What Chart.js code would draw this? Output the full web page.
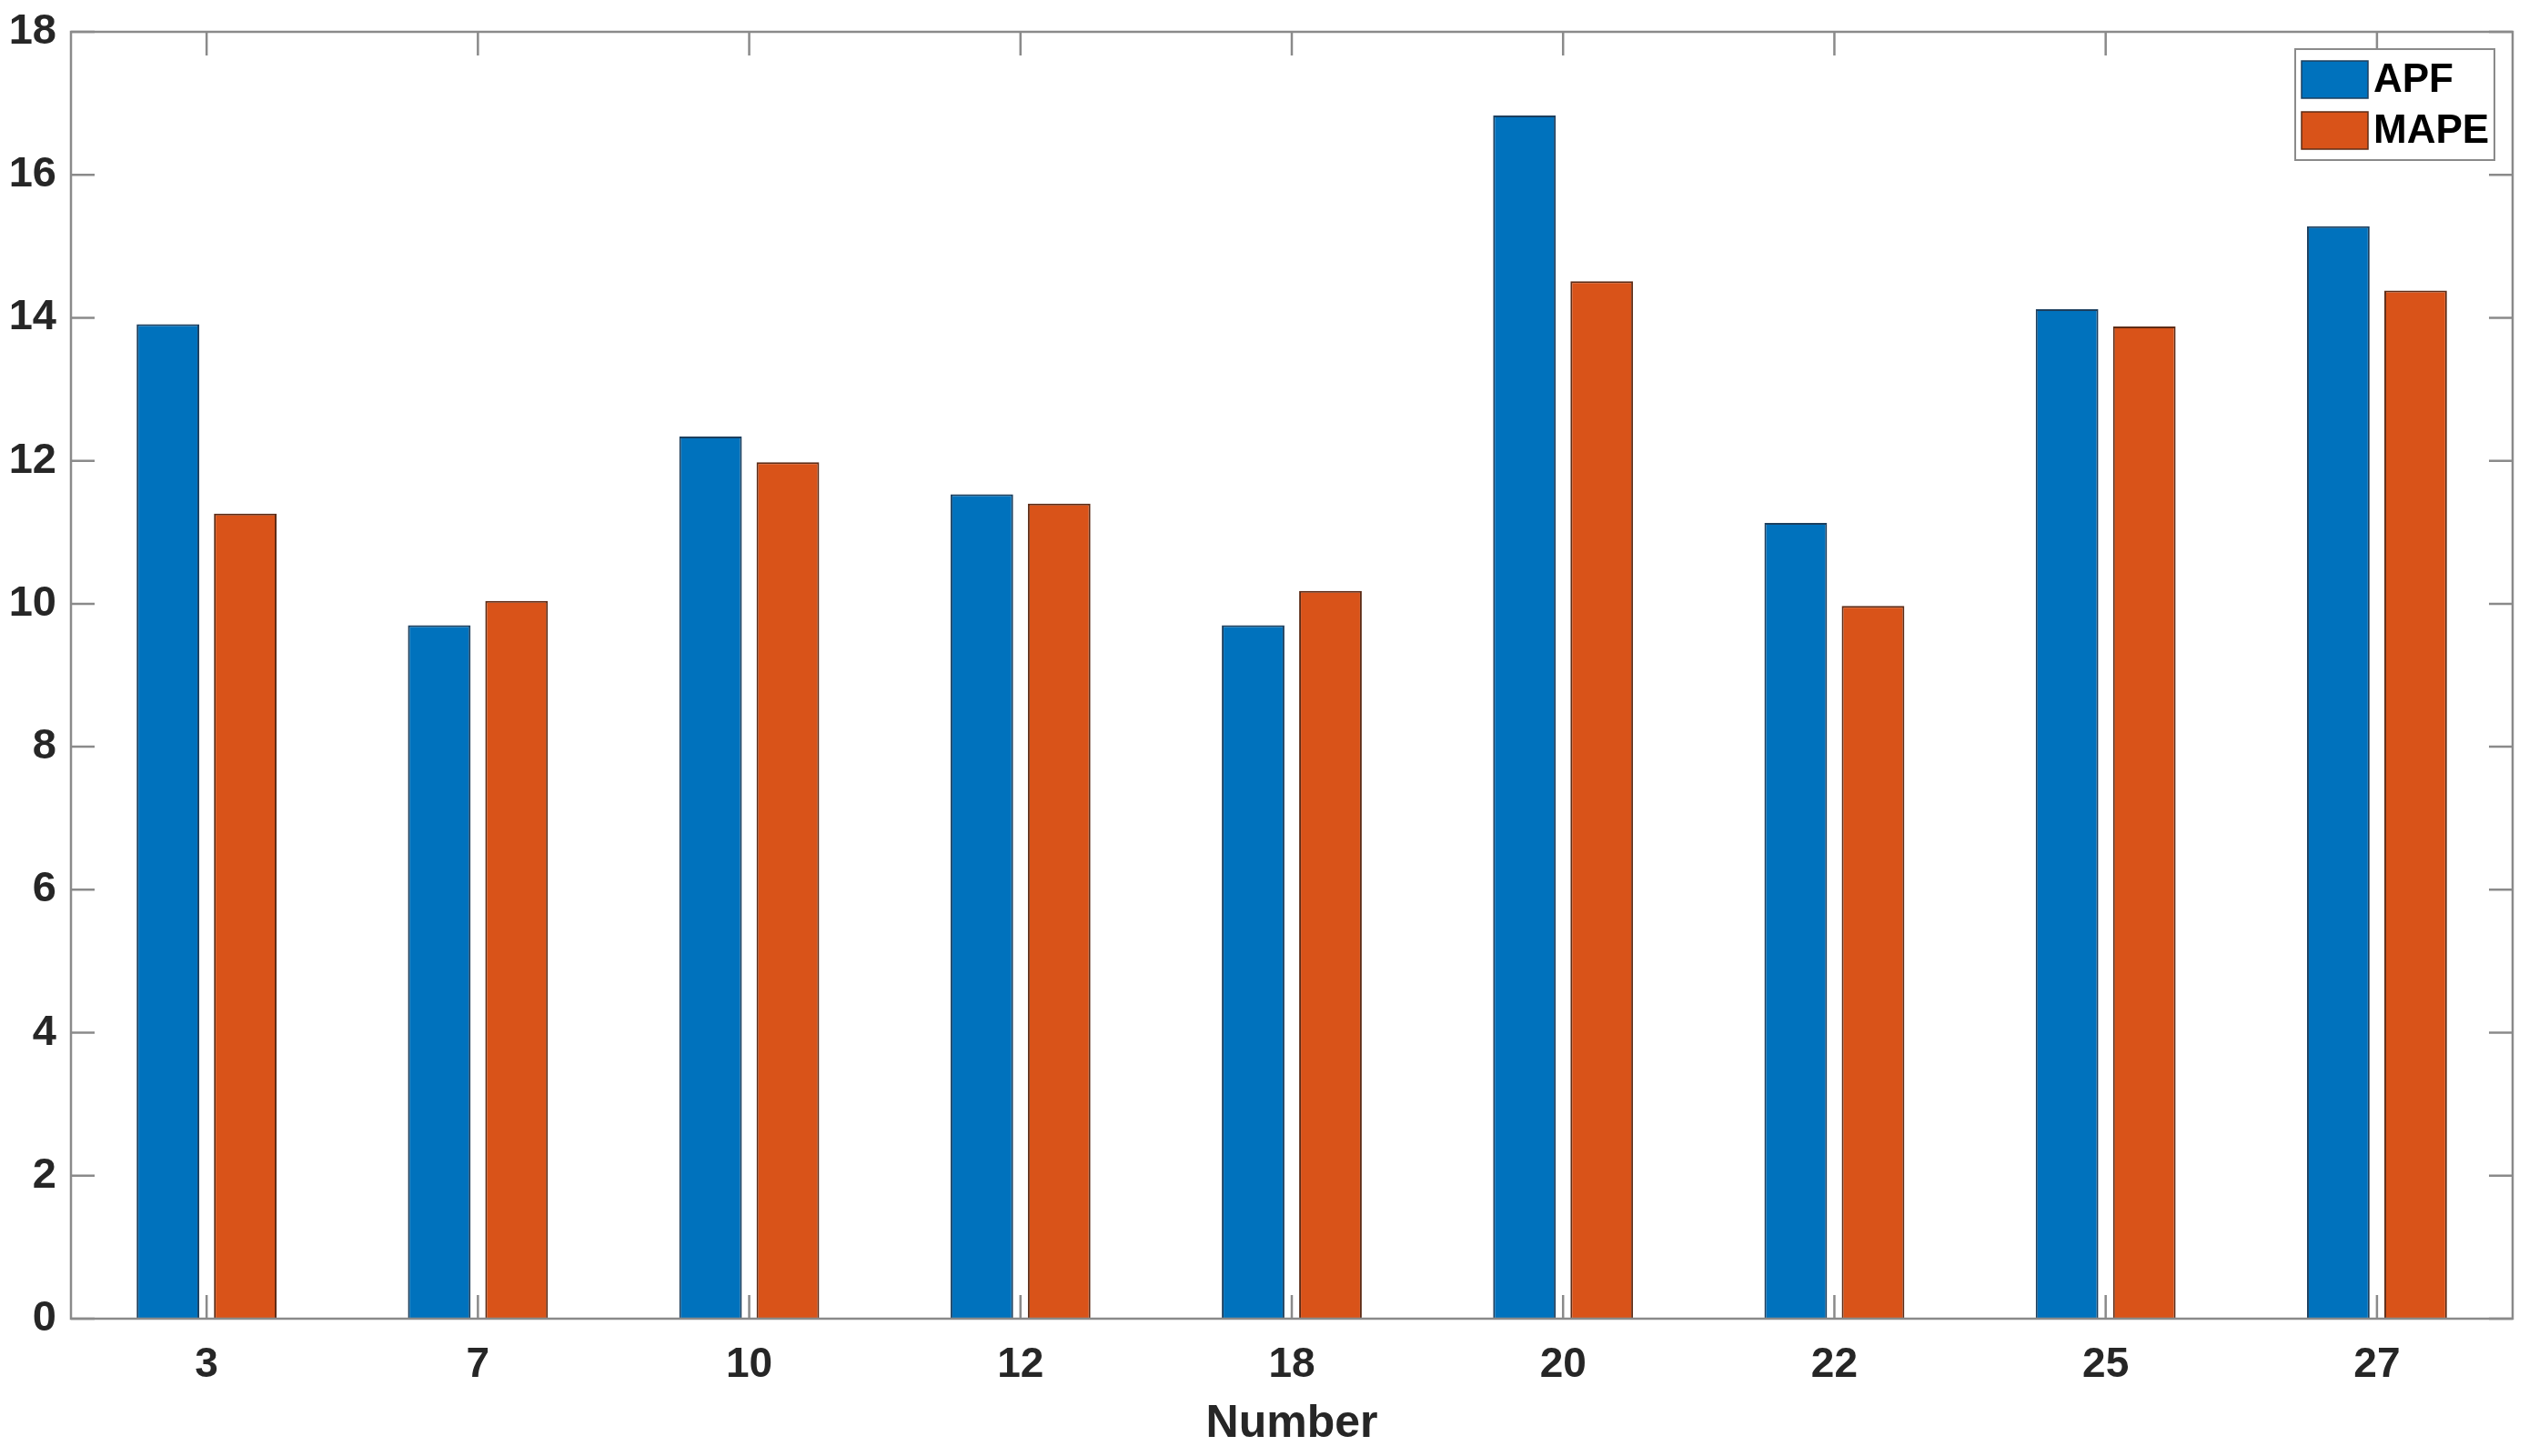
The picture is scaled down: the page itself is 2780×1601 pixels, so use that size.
<!DOCTYPE html>
<html>
<head>
<meta charset="utf-8">
<style>
  html, body { margin: 0; padding: 0; background: #ffffff; }
  #wrap { width: 2780px; height: 1601px; position: relative; }
</style>
<script src="https://cdn.jsdelivr.net/npm/chart.js@4/dist/chart.umd.min.js"></script>
</head>
<body>
<div id="wrap"><canvas id="c" width="2780" height="1601"></canvas></div>
<script>
const categories = ['3', '7', '10', '12', '18', '20', '22', '25', '27'];
const apfValues  = [13.91, 9.70, 12.34, 11.53, 9.70, 16.83, 11.13, 14.12, 15.28];
const mapeValues = [11.26, 10.04, 11.98, 11.40, 10.18, 14.51, 9.97, 13.88, 14.38];
const yTicks = [0, 2, 4, 6, 8, 10, 12, 14, 16, 18];
const seriesNames = ['APF', 'MAPE'];
const xTitle = 'Number';

const FONT = '"Liberation Sans", Arial, Helvetica, sans-serif';
const AXIS_COLOR = '#8a8a8a';
const TEXT_COLOR = '#262626';
const TICK_LEN = 26;

const frameTicks = {
  id: 'frameTicks',
  afterDatasetsDraw(chart) {
    const ctx = chart.ctx;
    const a = chart.chartArea;
    const xs = chart.scales.x, ys = chart.scales.y;
    ctx.save();
    ctx.strokeStyle = AXIS_COLOR;
    ctx.lineWidth = 2.5;
    ctx.beginPath();
    ctx.rect(a.left, a.top, a.right - a.left, a.bottom - a.top);
    ctx.stroke();
    ctx.beginPath();
    for (let i = 0; i < categories.length; i++) {
      const px = xs.getPixelForValue(i);
      ctx.moveTo(px, a.bottom); ctx.lineTo(px, a.bottom - TICK_LEN);
      ctx.moveTo(px, a.top); ctx.lineTo(px, a.top + TICK_LEN);
    }
    for (const v of yTicks) {
      const py = ys.getPixelForValue(v);
      ctx.moveTo(a.left, py); ctx.lineTo(a.left + TICK_LEN, py);
      ctx.moveTo(a.right, py); ctx.lineTo(a.right - TICK_LEN, py);
    }
    ctx.stroke();
    ctx.restore();
  }
};

const insideLegend = {
  id: 'insideLegend',
  afterDraw(chart) {
    const ctx = chart.ctx;
    const a = chart.chartArea;
    const boxL = a.right - 239, boxT = a.top + 19, boxW = 219, boxH = 122;
    ctx.save();
    ctx.fillStyle = '#ffffff';
    ctx.fillRect(boxL, boxT, boxW, boxH);
    ctx.strokeStyle = '#8a8a8a';
    ctx.lineWidth = 2;
    ctx.strokeRect(boxL, boxT, boxW, boxH);
    ctx.font = 'bold 44px ' + FONT;
    ctx.textBaseline = 'middle';
    ctx.textAlign = 'left';
    chart.data.datasets.forEach((ds, i) => {
      const sy = boxT + 13 + i * 56;
      ctx.fillStyle = ds.backgroundColor;
      ctx.fillRect(boxL + 7, sy, 73, 41);
      ctx.strokeStyle = ds.borderColor;
      ctx.lineWidth = 1.5;
      ctx.strokeRect(boxL + 7, sy, 73, 41);
      ctx.fillStyle = '#000000';
      ctx.fillText(ds.label, boxL + 86, sy + 22);
    });
    ctx.restore();
  }
};

new Chart(document.getElementById('c'), {
  type: 'bar',
  data: {
    labels: categories,
    datasets: [
      { label: seriesNames[0], data: apfValues, backgroundColor: '#0072BD', borderColor: '#1c3f5e', borderWidth: 2 },
      { label: seriesNames[1], data: mapeValues, backgroundColor: '#D95319', borderColor: '#5e2c16', borderWidth: 2 }
    ]
  },
  options: {
    responsive: false,
    animation: false,
    devicePixelRatio: 1,
    layout: { padding: { left: 0, right: 18, top: 35, bottom: 0 } },
    datasets: { bar: { categoryPercentage: 0.57, barPercentage: 0.81 } },
    plugins: { legend: { display: false }, tooltip: { enabled: false } },
    scales: {
      x: {
        type: 'category',
        offset: true,
        grid: { display: false, drawTicks: false },
        border: { display: false },
        ticks: { color: TEXT_COLOR, font: { family: FONT, size: 46, weight: 'bold' }, padding: 24, maxRotation: 0 },
        title: { display: true, text: xTitle, color: TEXT_COLOR, font: { family: FONT, size: 50, weight: 'bold' }, padding: { top: 0, bottom: 5 } },
        afterFit(scale) { scale.height = 151; scale.paddingLeft = 0; scale.paddingRight = 0; }
      },
      y: {
        min: 0, max: 18,
        afterBuildTicks(scale) { scale.ticks = yTicks.map(v => ({ value: v })); },
        grid: { display: false, drawTicks: false },
        border: { display: false },
        ticks: { color: TEXT_COLOR, font: { family: FONT, size: 47, weight: 'bold' }, padding: 16 },
        afterFit(scale) { scale.width = 78; scale.paddingTop = 0; scale.paddingBottom = 0; }
      }
    }
  },
  plugins: [frameTicks, insideLegend]
});
</script>
</body>
</html>
